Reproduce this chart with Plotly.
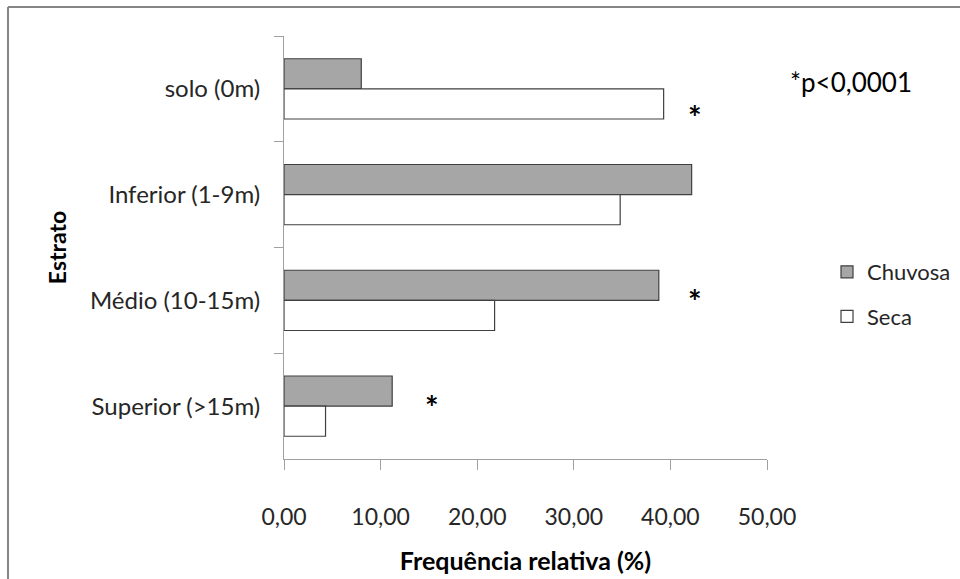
import plotly.graph_objects as go

categories = ["solo (0m)", "Inferior (1-9m)", "Médio (10-15m)", "Superior (>15m)"]
chuvosa = [8.0, 42.2, 38.8, 11.2]
seca = [39.3, 34.8, 21.8, 4.3]
x_ticks = [0, 10, 20, 30, 40, 50]
x_tick_labels = ["0,00", "10,00", "20,00", "30,00", "40,00", "50,00"]
star_x = [42.5, 42.5, 15.3]
star_cat = ["solo (0m)", "Médio (10-15m)", "Superior (>15m)"]
star_series = ["Seca", "Chuvosa", "Chuvosa"]

FONT = "Lato"
W, H = 960, 579
L, R, T, B = 284, 193, 36, 120
pw, ph = W - L - R, H - T - B

def px(x):
    return (x - L) / pw

def py(y):
    return (H - B - y) / ph

fig = go.Figure()
fig.add_trace(go.Bar(y=categories, x=chuvosa, orientation="h", name="Chuvosa",
                     marker=dict(color="#a6a6a6", line=dict(color="#404040", width=1.2)),
                     legendgroup="a"))
fig.add_trace(go.Bar(y=categories, x=seca, orientation="h", name="Seca",
                     marker=dict(color="#ffffff", line=dict(color="#404040", width=1.2)),
                     legendgroup="b"))

# significance stars (placed beside the bar of the indicated series)
for sx, sc, ss in zip(star_x, star_cat, star_series):
    shift = -29 if ss == "Seca" else -1
    fig.add_annotation(x=sx, y=sc, text="<b>*</b>", showarrow=False, xref="x", yref="y",
                       xanchor="center", yanchor="middle",
                       font=dict(family=FONT, size=32, color="#000"), yshift=shift)

fig.add_annotation(x=px(851), y=py(82), xref="paper", yref="paper", text="*p<0,0001",
                   xanchor="center", yanchor="middle",
                   showarrow=False, font=dict(family=FONT, size=26, color="#000"))

# outer frame (top and left edges visible)
fig.add_shape(type="line", xref="paper", yref="paper", x0=px(8), x1=px(970), y0=py(7), y1=py(7),
              line=dict(color="#868686", width=2))
fig.add_shape(type="line", xref="paper", yref="paper", x0=px(8), x1=px(8), y0=py(7), y1=py(590),
              line=dict(color="#868686", width=2))

fig.update_layout(
    width=W, height=H,
    margin=dict(l=L, r=R, t=T, b=B, autoexpand=False),
    paper_bgcolor="white", plot_bgcolor="white",
    barmode="group", bargap=0.43, bargroupgap=0,
    font=dict(family=FONT, size=24, color="#262626"),
    legend=dict(x=px(827), y=py(251), xanchor="left", yanchor="top",
                traceorder="grouped", tracegroupgap=13,
                font=dict(family=FONT, size=22, color="#262626"),
                itemwidth=30, bgcolor="rgba(0,0,0,0)"),
    xaxis=dict(range=[0, 50], tickvals=x_ticks, ticktext=x_tick_labels,
               showgrid=False, zeroline=False, showline=True, linecolor="#a0a0a0", linewidth=1,
               ticks="outside", ticklen=10, tickcolor="#a0a0a0", tickwidth=1,
               ticklabelstandoff=27,
               tickfont=dict(family=FONT, size=23, color="#262626"),
               title=dict(text="<b>Frequência relativa (%)</b>", standoff=23,
                          font=dict(family=FONT, size=25, color="#000"))),
    yaxis=dict(categoryorder="array", categoryarray=categories, autorange="reversed",
               showgrid=False, zeroline=False, showline=True, linecolor="#a0a0a0", linewidth=1,
               ticks="outside", ticklen=9, tickcolor="#a0a0a0", tickwidth=1,
               tickson="boundaries", ticklabelstandoff=18,
               tickfont=dict(family=FONT, size=24, color="#262626"),
               title=dict(text="<b>Estrato</b>", standoff=16,
                          font=dict(family=FONT, size=23, color="#000"))),
)

fig.write_html("out.html", config={"displayModeBar": False},
               post_script="document.body.style.margin='0';")
